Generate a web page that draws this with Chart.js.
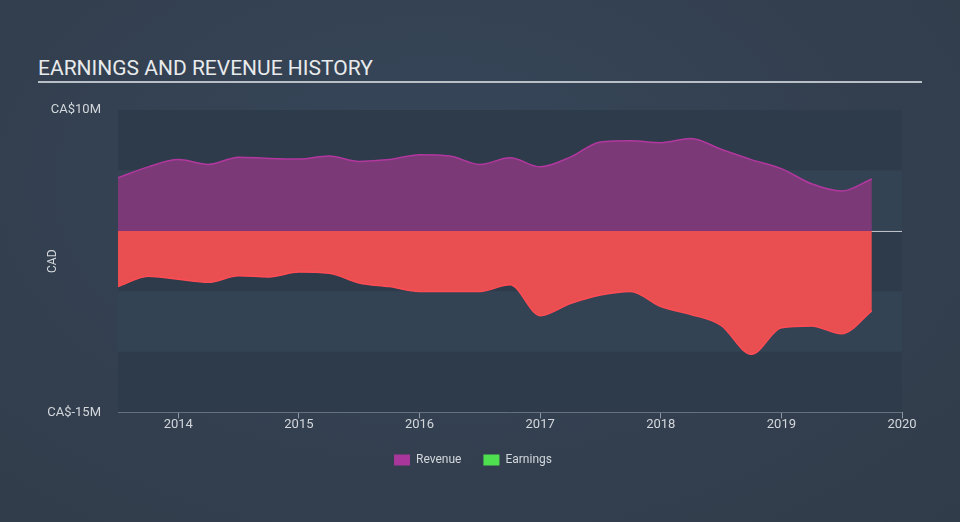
<!DOCTYPE html>
<html>
<head>
<meta charset="utf-8">
<script src="https://cdn.jsdelivr.net/npm/chart.js@4.4.0/dist/chart.umd.min.js"></script>
<style>
  html, body {
    margin: 0;
    padding: 0;
    width: 960px;
    height: 522px;
    overflow: hidden;
    background: radial-gradient(ellipse at 45% 35%, #36475a 0%, #333f4f 60%, #313c4a 100%);
    font-family: Roboto, "Open Sans", sans-serif;
  }
  #title {
    position: absolute;
    left: 38px;
    top: 56px;
    width: 884px;
    color: #e8eaec;
    font-size: 21px;
    padding-bottom: 1px;
    border-bottom: 2px solid #b9bfc6;
    line-height: 24px;
  }
  #wrap {
    position: absolute;
    left: 0;
    top: 0;
    width: 960px;
    height: 522px;
  }
</style>
</head>
<body>
<div id="title">EARNINGS AND REVENUE HISTORY</div>
<div id="wrap"><canvas id="chart"></canvas></div>
<script>
// quarter ends, as decimal years
const quarters = [
    2013.5, 2013.75, 2014.0, 2014.25, 2014.5, 2014.75,
    2015.0, 2015.25, 2015.5, 2015.75, 2016.0, 2016.25,
    2016.5, 2016.75, 2017.0, 2017.25, 2017.5, 2017.75,
    2018.0, 2018.25, 2018.5, 2018.75, 2019.0, 2019.25,
    2019.5, 2019.75
];

// CA$ millions, trailing twelve months
const revenue = [
    4.4, 5.3, 5.9, 5.5, 6.1, 6.0,
    5.95, 6.2, 5.75, 5.9, 6.3, 6.2,
    5.5, 6.05, 5.3, 6.1, 7.35, 7.45,
    7.3, 7.65, 6.75, 5.9, 5.15, 3.9,
    3.3, 4.3
];

const earnings = [
    -4.6, -3.75, -4.0, -4.25, -3.7, -3.8,
    -3.4, -3.5, -4.3, -4.6, -5.0, -5.0,
    -5.0, -4.45, -7.0, -6.0, -5.3, -5.0,
    -6.25, -6.9, -7.8, -10.2, -8.0, -7.85,
    -8.5, -6.6
];

const yearTicks = [2014, 2015, 2016, 2017, 2018, 2019, 2020];
const yLabels = { '10': 'CA$10M', '-15': 'CA$-15M' };

// alternating horizontal bands behind the plot
const bandPlugin = {
    id: 'bands',
    beforeDatasetsDraw(chart) {
        const { ctx, chartArea, scales } = chart;
        const y = scales.y;
        ctx.save();
        for (let v = 10; v > -15; v -= 5) {
            const top = y.getPixelForValue(v);
            const bottom = y.getPixelForValue(v - 5);
            const dark = ((10 - v) / 5) % 2 === 0;
            ctx.fillStyle = dark ? '#2e3b4a' : '#344354';
            ctx.fillRect(chartArea.left, top, chartArea.right - chartArea.left, bottom - top);
        }
        // zero line
        const z = y.getPixelForValue(0);
        ctx.strokeStyle = '#c3c8ce';
        ctx.lineWidth = 1;
        ctx.beginPath();
        ctx.moveTo(chartArea.left, z + 0.5);
        ctx.lineTo(chartArea.right, z + 0.5);
        ctx.stroke();
        ctx.restore();
    }
};

const ctx = document.getElementById('chart').getContext('2d');

new Chart(ctx, {
    type: 'line',
    data: {
        datasets: [
            {
                label: 'Revenue',
                data: quarters.map((q, i) => ({ x: q, y: revenue[i] })),
                borderColor: '#b2379f',
                backgroundColor: '#7b3a77',
                borderWidth: 1.5,
                fill: 'origin',
                cubicInterpolationMode: 'monotone',
                pointRadius: 0
            },
            {
                label: 'Earnings',
                data: quarters.map((q, i) => ({ x: q, y: earnings[i] })),
                borderColor: '#ff4d55',
                backgroundColor: '#e94e50',
                borderWidth: 1.5,
                fill: 'origin',
                cubicInterpolationMode: 'monotone',
                pointRadius: 0
            }
        ]
    },
    options: {
        responsive: true,
        maintainAspectRatio: false,
        animation: false,
        layout: {
            padding: { top: 110, right: 58, left: 44, bottom: 46 }
        },
        plugins: {
            tooltip: { enabled: false },
            legend: {
                display: true,
                position: 'bottom',
                labels: {
                    color: '#d3d7dc',
                    boxWidth: 16,
                    boxHeight: 11,
                    padding: 22,
                    font: { family: 'Roboto', size: 12 },
                    generateLabels: () => [
                        { text: 'Revenue', fillStyle: '#a9379b', strokeStyle: '#a9379b', lineWidth: 0, fontColor: '#d3d7dc' },
                        { text: 'Earnings', fillStyle: '#4fe04f', strokeStyle: '#4fe04f', lineWidth: 0, fontColor: '#d3d7dc' }
                    ]
                }
            }
        },
        scales: {
            x: {
                type: 'linear',
                min: 2013.5,
                max: 2020,
                afterBuildTicks: (scale) => {
                    scale.ticks = yearTicks.map(v => ({ value: v }));
                },
                ticks: {
                    color: '#d3d7dc',
                    font: { family: 'Roboto', size: 13 },
                    padding: -1,
                    maxRotation: 0,
                    callback: (v) => String(v)
                },
                grid: {
                    drawOnChartArea: false,
                    drawTicks: true,
                    tickLength: 6,
                    color: '#8c97a3'
                },
                border: { display: true, color: '#8c97a3', width: 1 }
            },
            y: {
                min: -15,
                max: 10,
                afterFit: (scale) => { scale.width = 74; },
                ticks: {
                    stepSize: 5,
                    color: '#d3d7dc',
                    font: { family: 'Roboto', size: 13 },
                    padding: 9,
                    callback: (v) => yLabels[String(v)] || ''
                },
                grid: { display: false },
                border: { display: false },
                title: {
                    display: true,
                    text: 'CAD',
                    color: '#d3d7dc',
                    font: { family: 'Roboto', size: 12 },
                    padding: { top: 2, bottom: 0 }
                }
            }
        }
    },
    plugins: [bandPlugin]
});
</script>
</body>
</html>
